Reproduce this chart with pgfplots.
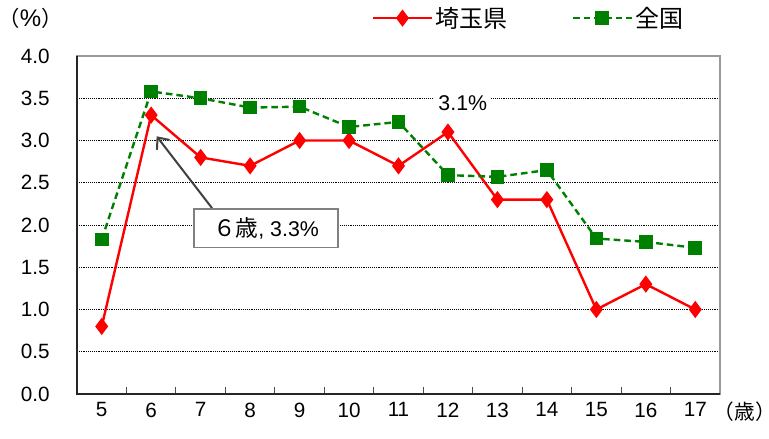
\documentclass[border=0pt]{standalone}
\usepackage{fontspec}
\setmainfont{Liberation Sans}
\newfontfamily\jp{Noto Sans CJK JP}
\usepackage{pgfplots}
\usepackage{pgfplotstable}
\pgfplotsset{compat=1.18}
\usetikzlibrary{arrows.meta}
\definecolor{sred}{RGB}{255,0,0}
\definecolor{sgreen}{RGB}{0,128,0}
\definecolor{arrowgray}{RGB}{64,64,64}

\pgfplotstableread{
age saitama zenkoku
5  0.8 1.83
6  3.3 3.58
7  2.8 3.50
8  2.7 3.39
9  3.0 3.40
10 3.0 3.16
11 2.7 3.22
12 3.1 2.59
13 2.3 2.57
14 2.3 2.65
15 1.0 1.84
16 1.3 1.80
17 1.0 1.73
}\data

\begin{document}
\begin{tikzpicture}
\useasboundingbox (0pt,0pt) rectangle (576.75pt,329.25pt);
\begin{axis}[
  at={(57.75pt,33.75pt)}, anchor=south west,
  scale only axis, width=482.25pt, height=253.5pt,
  xmin=4.5, xmax=17.5, ymin=0, ymax=4,
  xtick={5,6,7,8,9,10,11,12,13,14,15,16,17},
  minor xtick={5.5,6.5,7.5,8.5,9.5,10.5,11.5,12.5,13.5,14.5,15.5,16.5},
  ytick={0,0.5,1,1.5,2,2.5,3,3.5,4},
  major tick length=0pt, minor tick length=5pt, tick align=inside,
  xtick pos=bottom, ytick pos=left,
  minor tick style={black!70, line width=0.8pt},
  ymajorgrids,
  major grid style={black, densely dotted, line width=0.6pt},
  axis line style={draw=gray!80, line width=1pt},
  /pgf/number format/assume math mode=true,
  yticklabel style={/pgf/number format/.cd, fixed, fixed zerofill, precision=1},
  tick label style={font=\fontsize{15.5}{15.5}\selectfont},
  yticklabel shift=17pt,
  xticklabel shift=3pt,
  clip=false,
  legend style={at={(0.703,1.112)}, anchor=center, draw=none, fill=none,
    legend columns=2, font=\jp\fontsize{18}{18}\selectfont,
    /tikz/every even column/.append style={column sep=46pt}},
  legend image code/.code={\draw[mark repeat=2,mark phase=2,#1] plot coordinates {(0pt,0pt) (22pt,0pt) (44pt,0pt)};},
]
\addplot[sred, line width=1.8pt, mark=diamond*, mark size=5pt, mark options={solid}] table[x=age,y=saitama]{\data};
\addlegendentry{埼玉県}
\addplot[sgreen, line width=1.8pt, dash pattern=on 5pt off 3pt, mark=square*, mark size=4.2pt, mark options={solid}] table[x=age,y=zenkoku]{\data};
\addlegendentry{全国}
\draw[black!85, line width=1.2pt] (rel axis cs:0,1) -- (rel axis cs:0,0) -- (rel axis cs:1,0);
\draw[arrowgray, line width=1.5pt, -{Straight Barb[length=7pt,width=12pt]}] (axis cs:7.23,2.20) -- (axis cs:6.11,3.05);
\node[draw=gray, line width=1pt, fill=white, minimum width=108pt, minimum height=29pt, inner sep=0pt, font=\fontsize{16}{16}\selectfont] at (axis cs:8.32,1.96) {{\jp\fontsize{17}{17}\selectfont ６歳}, 3.3\%};
\node[fill=white, inner sep=3pt, font=\fontsize{16}{16}\selectfont] at (axis cs:12.30,3.44) {3.1\%};
\end{axis}
\node[font=\jp\fontsize{16}{16}\selectfont] at (23pt,315.75pt) {（{\rmfamily\fontsize{18}{18}\selectfont\%}）};
\node[font=\jp\fontsize{15.5}{15.5}\selectfont, inner sep=0pt] at (558.5pt,20.25pt) {\kern-0.42em（歳）\kern-0.42em};
\end{tikzpicture}
\end{document}
